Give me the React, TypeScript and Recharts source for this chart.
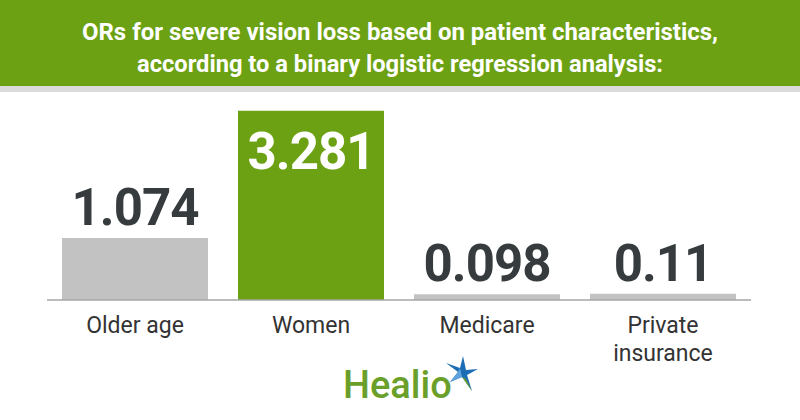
import { BarChart, Bar, XAxis, YAxis, Cell, LabelList } from 'recharts'

const categories = ['Older age', 'Women', 'Medicare', 'Private insurance']
const oddsRatios = [1.074, 3.281, 0.098, 0.11]
const valueLabels = ['1.074', '3.281', '0.098', '0.11']
const highlighted = [false, true, false, false]
const titleLines = [
  'ORs for severe vision loss based on patient characteristics,',
  'according to a binary logistic regression analysis:',
]

const GREEN = '#6ba113'
const GRAY_BAR = '#c2c2c2'
const DARK = '#363b3e'
const FONT = 'Roboto, "Liberation Sans", sans-serif'

const data = categories.map((name, i) => ({
  name,
  value: oddsRatios[i],
  label: valueLabels[i],
}))

function CategoryTick(props: any) {
  const { x, y, payload } = props
  const name: string = payload.value
  const lines = name.length > 12 ? name.split(' ') : [name]
  return (
    <g>
      {lines.map((line, i) => (
        <text
          key={line}
          x={x}
          y={y + 33 + i * 28}
          textAnchor="middle"
          fontFamily={FONT}
          fontSize={23}
          fill="#333"
        >
          {line}
        </text>
      ))}
    </g>
  )
}

function renderValueLabel(props: any) {
  const { x, y, width, index } = props
  const inside = highlighted[index]
  return (
    <text
      x={x + width / 2}
      y={inside ? y + 58 : y - 13}
      textAnchor="middle"
      fontFamily={FONT}
      fontWeight={700}
      fontSize={51}
      letterSpacing={-1}
      fill={inside ? '#ffffff' : DARK}
    >
      {valueLabels[index]}
    </text>
  )
}

export default function App() {
  return (
    <div
      style={{
        position: 'absolute',
        left: 0,
        top: 0,
        width: 800,
        height: 420,
        background: '#fff',
        overflow: 'hidden',
      }}
    >
      {/* header band */}
      <svg width={800} height={92} style={{ position: 'absolute', left: 0, top: 0 }}>
        <rect x={0} y={0} width={800} height={86} fill={GREEN} />
        <rect x={0} y={86} width={800} height={6} fill="#dbdbdb" />
        <text
          x={400}
          y={40}
          textAnchor="middle"
          fontFamily={FONT}
          fontWeight={700}
          fontSize={24}
          fill="#fff"
          textLength={636}
          lengthAdjust="spacingAndGlyphs"
        >
          {titleLines[0]}
        </text>
        <text
          x={400}
          y={72}
          textAnchor="middle"
          fontFamily={FONT}
          fontWeight={700}
          fontSize={24}
          fill="#fff"
          textLength={526}
          lengthAdjust="spacingAndGlyphs"
        >
          {titleLines[1]}
        </text>
      </svg>

      <div style={{ position: 'absolute', left: 0, top: 92 }}>
        <BarChart
          width={800}
          height={328}
          data={data}
          margin={{ top: 6, right: 49, bottom: 0, left: 47 }}
        >
          <YAxis hide domain={[0, 3.5]} />
          <XAxis
            dataKey="name"
            height={120}
            tickLine={false}
            tickSize={0}
            tickMargin={0}
            axisLine={{ stroke: '#a6a6a6', strokeWidth: 1.5 }}
            tick={<CategoryTick />}
            interval={0}
          />
          <Bar dataKey="value" barSize={146} isAnimationActive={false}>
            {data.map((d, i) => (
              <Cell key={d.name} fill={highlighted[i] ? GREEN : GRAY_BAR} />
            ))}
            <LabelList dataKey="label" content={renderValueLabel} />
          </Bar>
        </BarChart>
      </div>

      {/* Healio logo */}
      <svg width={800} height={60} style={{ position: 'absolute', left: 0, top: 355 }}>
        <text x={343} y={43} fontFamily={FONT} fontWeight={500} fontSize={38} fill="#6a9f2a">
          Healio
        </text>
        <polygon points="463,1 466,15 478,14 467,20 472,36 462,22 450,27 458,17 446,8 460,13" fill="#1d6db5" />
        <polygon points="460,13 462,22 450,27 458,17" fill="#5fa3dc" />
        <polygon points="462,22 472,36 466,24" fill="#6a9f2a" />
      </svg>
    </div>
  )
}
